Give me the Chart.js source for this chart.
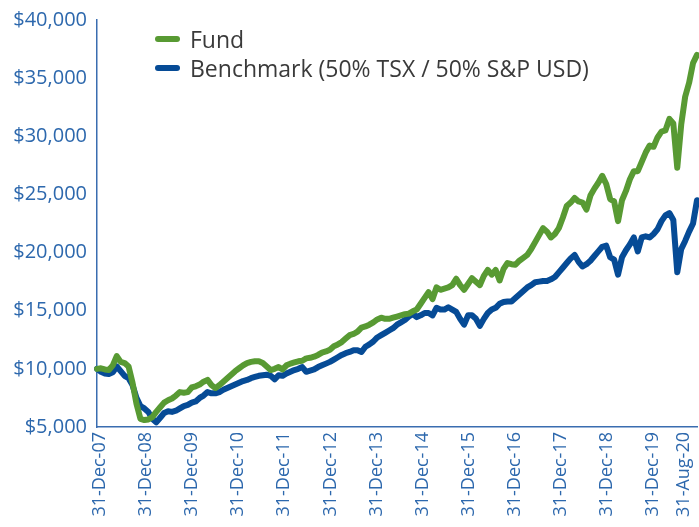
<!DOCTYPE html>
<html>
<head>
<meta charset="utf-8">
<script src="https://cdn.jsdelivr.net/npm/chart.js@4/dist/chart.umd.min.js"></script>
<style>
  html, body { margin: 0; padding: 0; background: #ffffff; }
  #wrap { position: relative; width: 699px; height: 527px; }
  canvas { position: absolute; left: 0; top: 0; }
  #legend { position: absolute; left: 155px; top: 24px; font-family: "Open Sans", sans-serif; font-size: 23px; color: #3a3a3a; }
  .row { display: flex; align-items: center; height: 29px; }
  .bar { display: inline-block; width: 25px; height: 6px; border-radius: 3px; margin-right: 10px; }
</style>
</head>
<body>
<div id="wrap">
  <canvas id="c" width="699" height="527"></canvas>
  <div id="legend"></div>
</div>
<script>
// Series names
const seriesNames = ['Fund', 'Benchmark (50% TSX / 50% S&P USD)'];

// Month-end categories Dec-2007 .. Aug-2020 (153 months)
const monthNames = ['Jan','Feb','Mar','Apr','May','Jun','Jul','Aug','Sep','Oct','Nov','Dec'];
const categories = [];
for (let y = 2007; y <= 2020; y++) {
  for (let m = 0; m < 12; m++) {
    if (y === 2007 && m < 11) continue;
    if (y === 2020 && m > 7) continue;
    categories.push(monthNames[m] + '-' + String(y).slice(2));
  }
}

// Tick labels shown on the x axis and the month index (in categories) they mark
const tickLabels = ['31-Dec-07','31-Dec-08','31-Dec-09','31-Dec-10','31-Dec-11','31-Dec-12','31-Dec-13',
  '31-Dec-14','31-Dec-15','31-Dec-16','31-Dec-17','31-Dec-18','31-Dec-19','31-Aug-20'];
const tickMonths = [0, 12, 24, 36, 48, 60, 72, 84, 96, 108, 120, 132, 144, 152];

// Growth of $10,000 - Fund
const fund = [
  10000,10050,9950,9900,10300,11100,10600,10500,10200,8800,
  7000,5700,5600,5650,5850,6300,6700,7100,7300,7450,
  7700,8000,7950,8000,8400,8500,8650,8900,9050,8600,
  8350,8600,8900,9200,9500,9800,10050,10300,10500,10600,
  10650,10650,10500,10200,9900,10000,10150,9950,10300,10450,
  10550,10650,10700,10900,10950,11050,11200,11400,11500,11650,
  11950,12100,12300,12600,12900,13000,13200,13550,13650,13800,
  14000,14250,14400,14300,14300,14400,14500,14600,14700,14750,
  14950,15100,15600,16100,16600,16000,17000,16800,16900,17000,
  17200,17750,17200,16800,17300,17800,17500,17200,18000,18500,
  18100,18500,17600,18600,19100,19000,18950,19300,19550,19800,
  20300,20900,21500,22100,21800,21300,21600,22100,23000,24000,
  24300,24700,24400,24300,23700,24900,25500,26000,26600,25900,
  24600,24400,22700,24500,25300,26300,27000,27000,27800,28600,
  29200,29100,29900,30400,30500,31500,31100,27300,31000,33400,
  34600,36300,37000
];

// Growth of $10,000 - Benchmark
const benchmark = [
  10000,9750,9600,9550,9700,10200,9800,9400,9200,8600,
  7500,6800,6600,6300,5700,5400,5800,6200,6350,6300,
  6400,6600,6800,6900,7100,7200,7500,7700,8000,7900,
  7900,8000,8200,8350,8500,8650,8800,8950,9050,9200,
  9300,9400,9450,9500,9400,9100,9450,9400,9600,9750,
  9900,10000,10150,9750,9850,9950,10150,10300,10450,10600,
  10800,11000,11200,11350,11450,11600,11600,11450,11900,12100,
  12350,12700,12900,13100,13300,13500,13800,14000,14200,14500,
  14700,14450,14600,14800,14800,14600,15250,15100,15100,15300,
  15100,14900,14300,13800,14600,14600,14300,13700,14300,14800,
  15100,15250,15600,15750,15800,15800,16100,16400,16700,17000,
  17200,17450,17500,17550,17550,17700,17900,18300,18700,19100,
  19500,19800,19200,18800,19000,19300,19700,20100,20500,20600,
  19600,19400,18100,19600,20200,20700,21300,20100,21300,21400,
  21300,21600,22000,22700,23200,23400,22800,18300,20300,21000,
  21800,22500,24500
];

const colors = ['#589a33', '#064b96'];
const tickColor = '#2d68ad';
const axisColor = '#3a6db0';
const fontFamily = '"Open Sans", sans-serif';

// HTML legend
const legendEl = document.getElementById('legend');
seriesNames.forEach((n, i) => {
  const row = document.createElement('div');
  row.className = 'row';
  const bar = document.createElement('span');
  bar.className = 'bar';
  bar.style.background = colors[i];
  const t = document.createElement('span');
  t.textContent = n;
  row.appendChild(bar);
  row.appendChild(t);
  legendEl.appendChild(row);
});

new Chart(document.getElementById('c'), {
  type: 'line',
  data: {
    labels: categories,
    datasets: [
      { label: seriesNames[0], data: fund, borderColor: colors[0], backgroundColor: colors[0],
        borderWidth: 6, pointRadius: 0, tension: 0, borderJoinStyle: 'round', borderCapStyle: 'round', order: 0 },
      { label: seriesNames[1], data: benchmark, borderColor: colors[1], backgroundColor: colors[1],
        borderWidth: 6, pointRadius: 0, tension: 0, borderJoinStyle: 'round', borderCapStyle: 'round', order: 1 }
    ]
  },
  options: {
    responsive: false,
    animation: false,
    layout: { padding: { top: 20, right: 2, left: 0, bottom: 0 } },
    plugins: { legend: { display: false }, tooltip: { enabled: false } },
    scales: {
      x: {
        type: 'category',
        offset: false,
        grid: { display: false, drawTicks: false },
        border: { display: true, color: axisColor, width: 1.5 },
        ticks: { display: false },
        afterFit: (s) => { s.height = 0; s.paddingLeft = 0; s.paddingRight = 0; }
      },
      xl: {
        type: 'linear',
        position: 'bottom',
        min: -0.8,
        max: 155.5,
        grid: { display: false, drawTicks: false },
        border: { display: false },
        afterBuildTicks: (s) => { s.ticks = tickMonths.map(v => ({ value: v })); },
        afterFit: (s) => { s.height = 100; s.paddingLeft = 0; s.paddingRight = 0; },
        ticks: {
          autoSkip: false,
          minRotation: 90,
          maxRotation: 90,
          padding: 5,
          color: tickColor,
          font: { family: fontFamily, size: 18 },
          callback: (v, i) => tickLabels[i]
        }
      },
      y: {
        min: 5000,
        max: 40000,
        grid: { display: false, drawTicks: false },
        border: { display: true, color: axisColor, width: 1.5 },
        afterFit: (s) => { s.width = 97; s.paddingTop = 0; s.paddingBottom = 0; },
        ticks: {
          stepSize: 5000,
          padding: 10,
          color: tickColor,
          font: { family: fontFamily, size: 20 },
          callback: (v) => '$' + Number(v).toLocaleString('en-US')
        }
      }
    }
  }
});
</script>
</body>
</html>
